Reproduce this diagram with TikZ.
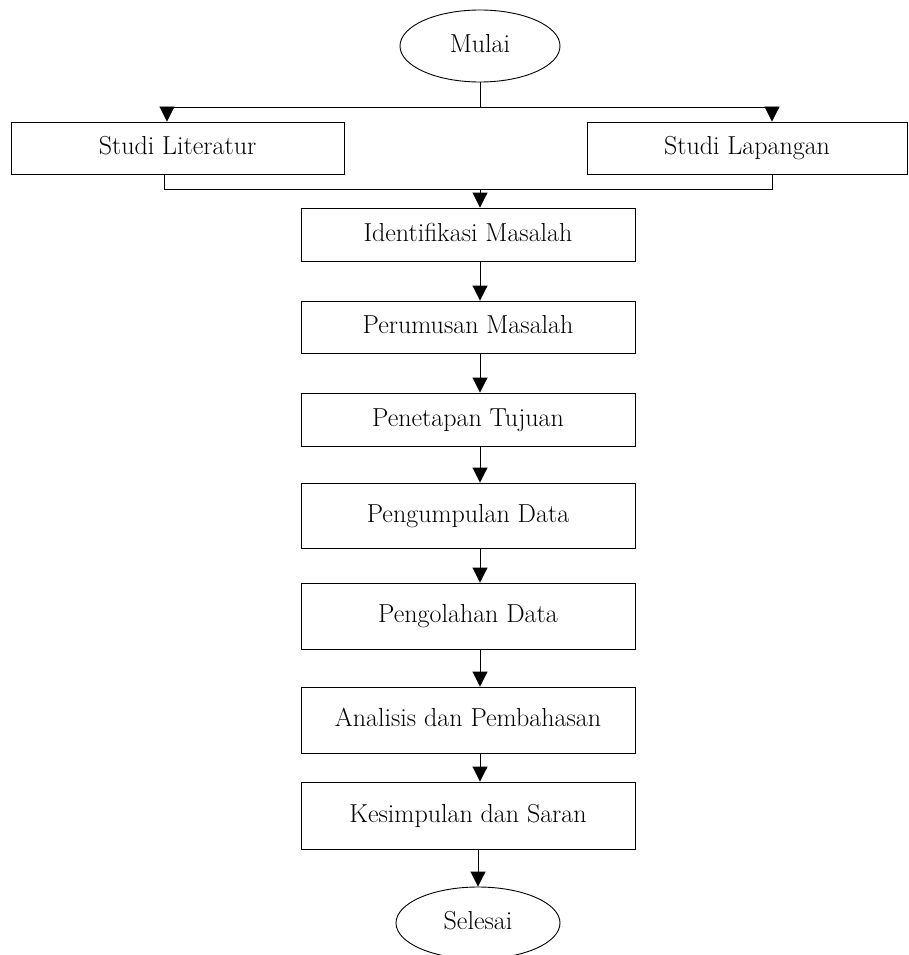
\documentclass[tikz,border=0pt]{standalone}
\usepackage{fontspec}
\usetikzlibrary{shapes.geometric,arrows.meta}
\begin{document}
\begin{tikzpicture}[x=1pt,y=-1pt,
  every node/.style={font=\fontsize{26}{31}\selectfont,text height=18pt,text depth=5pt},
  procbox/.style={draw,line width=0.9pt,rectangle,inner sep=0pt},
  term/.style={draw,line width=0.9pt,ellipse,inner sep=0pt},
  link/.style={line width=0.9pt},
  arr/.style={line width=0.9pt,-{Triangle[width=15pt,length=15pt]}}]
\useasboundingbox (0,0) rectangle (909,955);
% terminals
\node[term,minimum width=160pt,minimum height=72pt] (mulai) at (480,46) {Mulai};
\node[term,minimum width=164pt,minimum height=72pt] (sel) at (478,923) {Selesai};
% top row
\node[procbox,minimum width=333pt,minimum height=52pt] (lit) at (177.5,148) {Studi Literatur};
\node[procbox,minimum width=320pt,minimum height=52pt] (lap) at (747,148) {Studi Lapangan};
% main column
\node[procbox,minimum width=334pt,minimum height=53pt] (idm) at (468,234.5) {Identifikasi Masalah};
\node[procbox,minimum width=334pt,minimum height=52pt] (per) at (468,327) {Perumusan Masalah};
\node[procbox,minimum width=334pt,minimum height=53pt] (pen) at (468,419.5) {Penetapan Tujuan};
\node[procbox,minimum width=334pt,minimum height=65pt] (pgd) at (468,515.5) {Pengumpulan Data};
\node[procbox,minimum width=334pt,minimum height=66pt] (pod) at (468,616) {Pengolahan Data};
\node[procbox,minimum width=334pt,minimum height=66pt] (ana) at (468,720) {Analisis dan Pembahasan};
\node[procbox,minimum width=334pt,minimum height=67pt] (kes) at (468,815.5) {Kesimpulan dan Saran};
% split from Mulai
\coordinate (split) at (480,107);
\coordinate (lj) at (167,107);
\coordinate (rj) at (772,107);
\draw[link] (mulai.south) -- (split);
\draw[link] (lj) -- (rj);
\draw[arr] (lj) -- (lj |- lit.north);
\draw[arr] (rj) -- (rj |- lap.north);
% merge into Identifikasi
\coordinate (bl) at (164,189);
\coordinate (br) at (772,189);
\draw[link] (bl |- lit.south) -- (bl) -- (br) -- (br |- lap.south);
\draw[arr] (bl -| mulai) -- (idm.north -| mulai);
% main flow
\draw[arr] (idm.south -| mulai) -- (per.north -| mulai);
\draw[arr] (per.south -| mulai) -- (pen.north -| mulai);
\draw[arr] (pen.south -| mulai) -- (pgd.north -| mulai);
\draw[arr] (pgd.south -| mulai) -- (pod.north -| mulai);
\draw[arr] (pod.south -| mulai) -- (ana.north -| mulai);
\draw[arr] (ana.south -| mulai) -- (kes.north -| mulai);
\draw[arr] (kes.south -| sel) -- (sel.north);
\end{tikzpicture}
\end{document}
